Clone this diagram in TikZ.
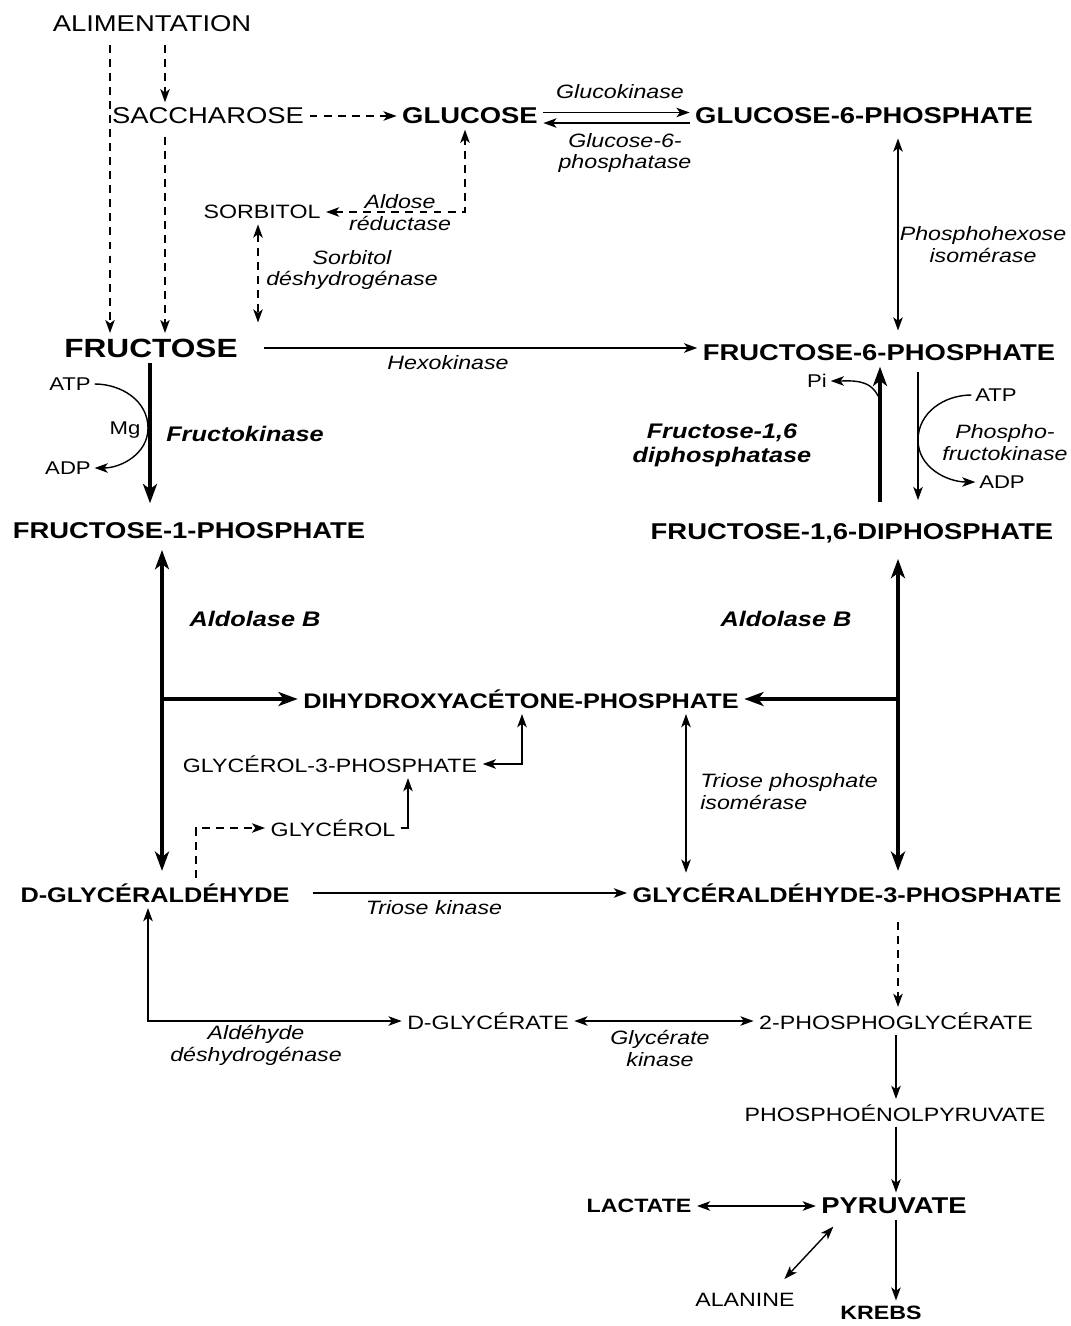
\documentclass[tikz,border=0pt]{standalone}
\usepackage{fontspec}
\setmainfont{Liberation Sans}[FakeStretch=1.2]
\usetikzlibrary{arrows, arrows.meta}
\tikzstyle{major}=[font=\fontsize{13}{15}\selectfont, inner sep=3pt]
\tikzstyle{minor}=[font=\fontsize{11}{13}\selectfont, inner sep=3pt]
\tikzstyle{metab}=[font=\fontsize{13}{15}\selectfont\bfseries, inner sep=3pt]
\tikzstyle{metabbig}=[font=\fontsize{15}{17}\selectfont\bfseries, inner sep=3pt]
\tikzstyle{metablow}=[font=\fontsize{12}{14}\selectfont\bfseries, inner sep=3pt]
\tikzstyle{metabtiny}=[font=\fontsize{11}{13}\selectfont\bfseries, inner sep=3pt]
\tikzstyle{cof}=[font=\fontsize{10.5}{12}\selectfont, inner sep=2pt]
\tikzstyle{enz}=[font=\fontsize{11}{12.5}\selectfont\itshape, align=center, inner sep=1pt]
\tikzstyle{enzbold}=[font=\fontsize{12}{13.5}\selectfont\bfseries\itshape, align=center, inner sep=1pt]
\tikzstyle{thinline}=[line width=0.8pt]
\tikzstyle{thickline}=[line width=1.8pt, >={Stealth[length=11pt, width=8pt, inset=3pt]}]
\tikzstyle{dashline}=[line width=0.8pt, dash pattern=on 4.5pt off 3.5pt]

\begin{document}
\begin{tikzpicture}[x=0.02cm, y=-0.02cm, >={Stealth[length=7.5pt, width=5.4pt, inset=2pt]}]
    \useasboundingbox (0,0) rectangle (1071,1326);

    % metabolites
    \node[major]     (ali)   at (152,24)   {ALIMENTATION};
    \node[major]     (sac)   at (208,116)  {SACCHAROSE};
    \node[metab]     (glu)   at (470,116)  {GLUCOSE};
    \node[metab]     (g6p)   at (864,116)  {GLUCOSE-6-PHOSPHATE};
    \node[minor]     (sor)   at (262,212)  {SORBITOL};
    \node[metabbig]  (fru)   at (151,348)  {FRUCTOSE};
    \node[metab]     (f6p)   at (879,353)  {FRUCTOSE-6-PHOSPHATE};
    \node[metab]     (f1p)   at (189,531)  {FRUCTOSE-1-PHOSPHATE};
    \node[metab]     (fdp)   at (852,533)  {FRUCTOSE-1,6-DIPHOSPHATE};
    \node[metablow]  (dhap)  at (521,699)  {DIHYDROXYACÉTONE-PHOSPHATE};
    \node[minor]     (g3pol) at (330,764)  {GLYCÉROL-3-PHOSPHATE};
    \node[minor]     (gol)   at (333,828)  {GLYCÉROL};
    \node[metablow]  (dgly)  at (155,893)  {D-GLYCÉRALDÉHYDE};
    \node[metablow]  (g3p)   at (847,893)  {GLYCÉRALDÉHYDE-3-PHOSPHATE};
    \node[minor]     (dgla)  at (488,1021) {D-GLYCÉRATE};
    \node[minor]     (pg2)   at (896,1021) {2-PHOSPHOGLYCÉRATE};
    \node[minor]     (pep)   at (895,1113) {PHOSPHOÉNOLPYRUVATE};
    \node[metabtiny] (lac)   at (639,1206) {LACTATE};
    \node[metab]     (pyr)   at (894,1206) {PYRUVATE};
    \node[minor]     (ala)   at (745,1300) {ALANINE};
    \node[metabtiny] (kreb)  at (881,1313) {KREBS};

    % cofactors
    \node[cof] (atpL) at (70,384)   {ATP};
    \node[cof] (adpL) at (68,468)   {ADP};
    \node[cof] (mg)   at (125,430)  {Mg};
    \node[cof] (pi)   at (817,381)  {Pi};
    \node[cof] (atpR) at (996,395)  {ATP};
    \node[cof] (adpR) at (1002,482) {ADP};
    \coordinate (mgL) at (148,428);
    \coordinate (mgR) at (918,440);
    \coordinate (piJ) at (878,396);

    % enzymes
    \node[enz]     (gk)     at (620,92)   {Glucokinase};
    \node[enz]     (g6pase) at (625,153)  {Glucose-6-\\phosphatase};
    \node[enz]     (ar)     at (400,213)  {Aldose\\réductase};
    \node[enz]     (sdh)    at (352,270)  {Sorbitol\\déshydrogénase};
    \node[enz]     (phi)    at (983,245)  {Phosphohexose\\isomérase};
    \node[enz]     (hk)     at (448,363)  {Hexokinase};
    \node[enzbold] (fk)     at (245,434)  {Fructokinase};
    \node[enzbold] (fbp)    at (722,445)  {Fructose-1,6\\diphosphatase};
    \node[enz]     (pfk)    at (1005,443) {Phospho-\\fructokinase};
    \node[enzbold] (aldL)   at (255,619)  {Aldolase B};
    \node[enzbold] (aldR)   at (786,619)  {Aldolase B};
    \node[enz, align=left] (tpi) at (789,792) {Triose phosphate\\isomérase};
    \node[enz]     (tk)     at (434,908)  {Triose kinase};
    \node[enz]     (aldh)   at (256,1045) {Aldéhyde\\déshydrogénase};
    \node[enz]     (gck)    at (660,1048) {Glycérate\\kinase};

    % dashed routes
    \path[dashline, ->]
      (ali.south -| 110,0) edge[shorten <=4pt] (fru.north -| 110,0)
      (ali.south -| 165,0) edge[shorten <=4pt] (sac.north -| 165,0)
      (sac.south -| 165,0) edge[shorten <=4pt] (fru.north -| 165,0)
      (sac)                edge                (glu)
      (g3p.south -| 898,0) edge[shorten <=8pt] (pg2.north -| 898,0);
    \draw[dashline, <->] (sor.east) -| (glu.south -| 465,0);
    \draw[dashline, <->, shorten >=6pt] (sor.south -| 258,0) -- (fru.north -| 258,0);
    \draw[dashline, ->] (dgly.north -| 196,0) |- (gol.west);

    % thin arrows
    \path[thinline, ->]
      ([yshift=2pt]glu.east)  edge ([yshift=2pt]glu.east -| g6p.west)
      ([yshift=-4pt]g6p.west) edge ([yshift=-4pt]g6p.west -| glu.east)
      (fru.east)              edge[shorten <=12pt] (fru.east -| f6p.west)
      (f6p.south -| 918,0)    edge[shorten <=3pt, shorten >=10pt] (fdp.north -| 918,0)
      (dgly.east)             edge[shorten <=10pt] (dgly.east -| g3p.west)
      (pg2.south -| 896,0)    edge (pep.north -| 896,0)
      (pep.south -| 896,0)    edge (pyr.north -| 896,0)
      (pyr.south -| 896,0)    edge (kreb.north -| 896,0);
    \path[thinline, <->]
      (g6p.south -| 898,0)    edge[shorten <=5pt, shorten >=5pt] (f6p.north -| 898,0)
      (dhap.south -| 686,0)   edge[shorten >=3pt] (g3p.north -| 686,0)
      (dgla)                  edge (pg2)
      (lac)                   edge (pyr)
      ([xshift=10pt, yshift=-4pt]pyr.south west) edge ([xshift=-9pt, yshift=5pt]ala.north east);
    \draw[thinline, <->] (g3pol.east) -| (dhap.south -| 522,0);
    \draw[thinline, ->] (gol.east) -| (g3pol.south -| 408,0);
    \draw[thinline, <->] (dgly.south -| 148,0) |- (dgla.west);

    % cofactor curves
    \draw[thinline, ->] (atpL.east) to[out=0, in=90] (mgL) to[out=-90, in=0] (adpL.east);
    \draw[thinline, ->] (atpR.west) to[out=180, in=90] (mgR) to[out=-90, in=180] (adpR.west);
    \draw[thinline, ->] (piJ) to[out=115, in=0] (pi.east);

    % thick arrows
    \path[thickline, ->]
      (fru.south -| 150,0) edge[shorten >=8pt] (f1p.north -| 150,0)
      (fdp.north -| 880,0) edge[shorten <=9pt] (f6p.south -| 880,0)
      (dhap.west -| 162,0) edge (dhap.west)
      (dhap.east -| 898,0) edge (dhap.east);
    \path[thickline, <->]
      (f1p.south -| 162,0) edge[shorten <=3pt, shorten >=4pt] (dgly.north -| 162,0)
      (fdp.south -| 898,0) edge[shorten <=6pt, shorten >=4pt] (g3p.north -| 898,0);
\end{tikzpicture}
\end{document}
